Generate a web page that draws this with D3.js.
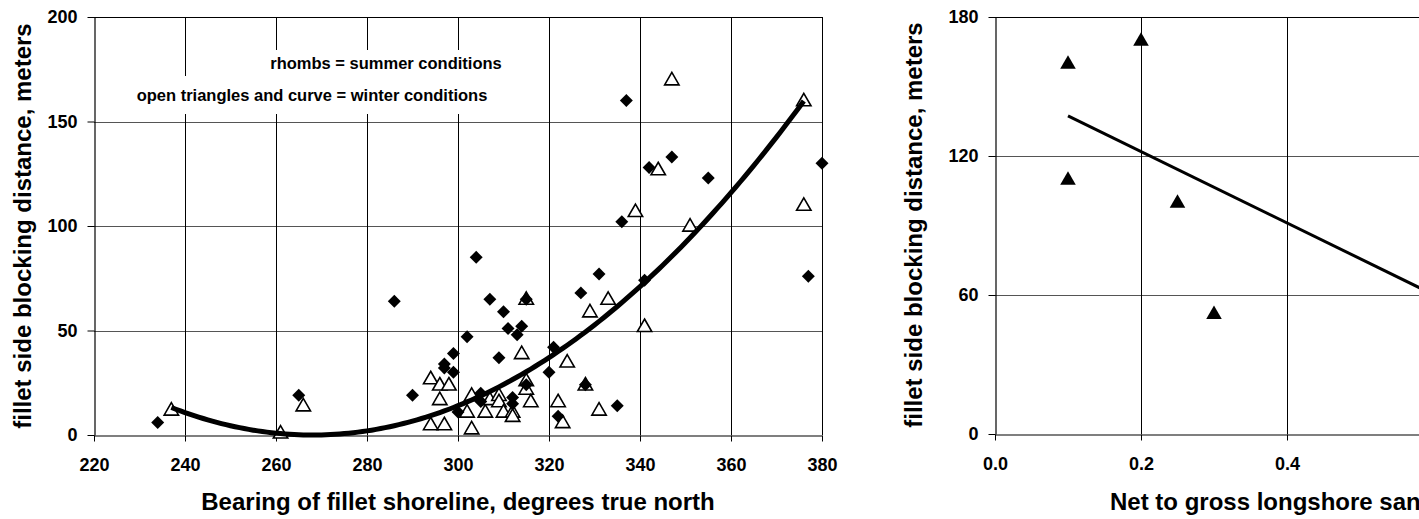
<!DOCTYPE html>
<html>
<head>
<meta charset="utf-8">
<script src="https://cdn.jsdelivr.net/npm/d3@7"></script>
<style>
  body { margin: 0; background: #fff; }
  svg { display: block; font-family: "Liberation Sans", Arial, sans-serif; font-weight: bold; }
</style>
</head>
<body>
<svg id="chart" width="1419" height="519"></svg>
<script>
// left panel: bearing vs blocking distance
const summerBearing = [234, 265, 286, 290, 297, 297, 299, 299, 300, 302, 304, 305, 305, 307, 309, 310, 311, 312, 312, 313, 314, 315, 315, 320, 321, 322, 327, 328, 331, 335, 336, 337, 341, 342, 347, 355, 377, 380];
const summerDist = [6, 19, 64, 19, 34, 32, 39, 30, 11, 47, 85, 20, 16, 65, 37, 59, 51, 18, 15, 48, 52, 65, 24, 30, 42, 9, 68, 24, 77, 14, 102, 160, 74, 128, 133, 123, 76, 130];

const winterBearing = [237, 261, 266, 294, 294, 296, 296, 297, 298, 302, 303, 303, 306, 307, 309, 309, 310, 312, 312, 314, 315, 315, 315, 316, 322, 323, 324, 328, 329, 331, 333, 339, 341, 344, 347, 351, 376, 376];
const winterDist = [12, 1, 14, 27, 5, 24, 17, 5, 24, 11, 19, 3, 11, 17, 19, 16, 11, 11, 9, 39, 26, 22, 65, 16, 16, 6, 35, 24, 59, 12, 65, 107, 52, 127, 170, 100, 160, 110];

// winter trend: dist = a * (bearing - h)^2, drawn from 237 to 376
const winterTrend = { a: 0.0137, h: 268, from: 237, to: 376 };

const bearingTicks = [220, 240, 260, 280, 300, 320, 340, 360, 380];
const distTicks = [0, 50, 100, 150, 200];

// right panel: net/gross ratio vs blocking distance (panel runs past the page edge)
const ratio = [0.1, 0.2, 0.1, 0.25, 0.3];
const ratioDist = [160, 170, 110, 100, 52];
const ratioTrend = { intercept: 152.7, slope: -154, from: 0.1, to: 0.8 };
const ratioTicks = [0, 0.2, 0.4];
const ratioGrid = [0, 0.2, 0.4, 0.6, 0.8];
const ratioDistTicks = [0, 60, 120, 180];

const svg = d3.select('#chart');

function drawFrame(x, y, xTicks, xGrid, yTicks, xFmt) {
  const [x0, x1] = x.range();
  const [y0, y1] = y.range();
  const g = svg.append('g');

  // grid
  g.append('g').selectAll('line').data(yTicks.slice(1)).join('line')
    .attr('x1', x0).attr('x2', x1)
    .attr('y1', d => Math.round(y(d)) + 0.5).attr('y2', d => Math.round(y(d)) + 0.5)
    .attr('stroke', d => d === yTicks[yTicks.length - 1] ? '#000' : '#555');
  g.append('g').selectAll('line').data(xGrid.slice(1)).join('line')
    .attr('x1', d => Math.round(x(d)) + 0.5).attr('x2', d => Math.round(x(d)) + 0.5)
    .attr('y1', y0).attr('y2', y1)
    .attr('stroke', '#000');

  const xAxis = g.append('g')
    .attr('transform', `translate(0,${Math.round(y0) + 0.5})`)
    .call(d3.axisBottom(x).tickValues(xTicks).tickFormat(xFmt).tickSize(6).tickSizeOuter(0).tickPadding(17));
  const yAxis = g.append('g')
    .attr('transform', `translate(${Math.round(x0) + 0.5},0)`)
    .call(d3.axisLeft(y).tickValues(yTicks).tickSize(7).tickSizeOuter(0).tickPadding(10));

  [xAxis, yAxis].forEach(a => {
    a.select('.domain').attr('stroke', '#000').attr('stroke-width', 1.2);
    a.selectAll('.tick line').attr('stroke', '#000');
    a.selectAll('text').attr('font-size', 18).attr('font-family', null).attr('fill', '#000');
    a.attr('font-family', null);
  });
  return g;
}

// ---------- left panel
const xL = d3.scaleLinear().domain([220, 380]).range([94, 822]);
const yL = d3.scaleLinear().domain([0, 200]).range([435, 17]);
drawFrame(xL, yL, bearingTicks, bearingTicks, distTicks, d3.format('d'));

// annotation boxes hide the grid behind the text
svg.append('rect').attr('x', 262).attr('y', 50).attr('width', 250).attr('height', 26).attr('fill', '#fff');
svg.append('rect').attr('x', 130).attr('y', 76).attr('width', 365).attr('height', 38).attr('fill', '#fff');
svg.append('text').attr('x', 386).attr('y', 69).attr('text-anchor', 'middle').attr('font-size', 16.5)
  .text('rhombs = summer conditions');
svg.append('text').attr('x', 312).attr('y', 101).attr('text-anchor', 'middle').attr('font-size', 16.5)
  .text('open triangles and curve = winter conditions');

const tri = d3.symbol().type(d3.symbolTriangle).size(90);
const dia = d3.symbol().type(d3.symbolSquare).size(84);

svg.append('g').selectAll('path').data(winterBearing).join('path')
  .attr('d', tri)
  .attr('transform', (d, i) => `translate(${xL(d)},${yL(winterDist[i]) + 1})`)
  .attr('fill', '#fff').attr('stroke', '#000').attr('stroke-width', 1.6);

svg.append('g').selectAll('path').data(summerBearing).join('path')
  .attr('d', dia)
  .attr('transform', (d, i) => `translate(${xL(d)},${yL(summerDist[i])}) rotate(45)`)
  .attr('fill', '#000');

const curveX = d3.range(winterTrend.from, winterTrend.to + 0.5, 1);
svg.append('path')
  .datum(curveX)
  .attr('fill', 'none').attr('stroke', '#000').attr('stroke-width', 5)
  .attr('d', d3.line()
    .x(d => xL(d))
    .y(d => yL(winterTrend.a * (d - winterTrend.h) ** 2)));

svg.append('text')
  .attr('transform', 'translate(31,226) rotate(-90)')
  .attr('text-anchor', 'middle').attr('font-size', 24)
  .text('fillet side blocking distance, meters');
svg.append('text')
  .attr('x', 458).attr('y', 510).attr('text-anchor', 'middle').attr('font-size', 24)
  .text('Bearing of fillet shoreline, degrees true north');

// ---------- right panel
const xR = d3.scaleLinear().domain([0, 1]).range([995, 1725]);
const yR = d3.scaleLinear().domain([0, 180]).range([434, 17]);
drawFrame(xR, yR, ratioTicks, ratioGrid, ratioDistTicks, d3.format('.1f'));

const triR = d3.symbol().type(d3.symbolTriangle).size(105);
svg.append('g').selectAll('path').data(ratio).join('path')
  .attr('d', triR)
  .attr('transform', (d, i) => `translate(${xR(d)},${yR(ratioDist[i]) + 1})`)
  .attr('fill', '#000');

svg.append('line')
  .attr('x1', xR(ratioTrend.from)).attr('y1', yR(ratioTrend.intercept + ratioTrend.slope * ratioTrend.from))
  .attr('x2', xR(ratioTrend.to)).attr('y2', yR(ratioTrend.intercept + ratioTrend.slope * ratioTrend.to))
  .attr('stroke', '#000').attr('stroke-width', 3);

svg.append('text')
  .attr('transform', 'translate(922,225) rotate(-90)')
  .attr('text-anchor', 'middle').attr('font-size', 24)
  .text('fillet side blocking distance, meters');
svg.append('text')
  .attr('x', 1110).attr('y', 510).attr('font-size', 24)
  .text('Net to gross longshore sand transport ratio');
</script>
</body>
</html>
